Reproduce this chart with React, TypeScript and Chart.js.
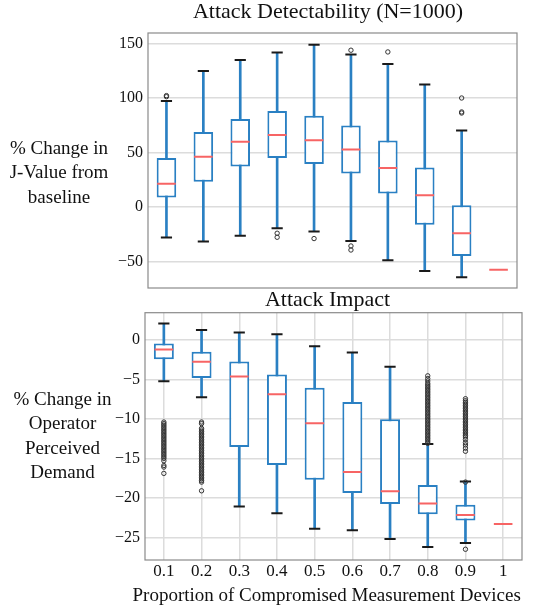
import React, { useEffect, useRef } from 'react';
import { Chart, registerables } from 'chart.js';

Chart.register(...registerables);

const FONT = "'Liberation Serif', 'Times New Roman', serif";
const BLUE = '#2a80c3';
const RED = '#f76464';
const CAP = '#1a1a1a';
const GRID = '#dcdcdc';

const categories = ['0.1', '0.2', '0.3', '0.4', '0.5', '0.6', '0.7', '0.8', '0.9', '1'];

// ---- Attack Detectability (top) ----
const detTitle = 'Attack Detectability (N=1000)';
const detYLabel = ['% Change in', 'J-Value from', 'baseline'];
const detTicks = [-50, 0, 50, 100, 150];
const detLow = [-28.2, -31.9, -26.4, -19.6, -22.7, -31.3, -49.1, -58.9, -64.7, null];
const detQ1 = [8.6, 23.0, 37.1, 44.8, 39.3, 30.7, 12.3, -16.3, -45.1, null];
const detMedian = [21.2, 46.0, 59.8, 66.0, 61.3, 52.8, 35.6, 10.7, -24.2, -57.7];
const detQ3 = [44.8, 68.7, 80.7, 88.0, 83.7, 74.8, 61.0, 36.2, 1.5, null];
const detHigh = [97.2, 124.8, 135.0, 141.7, 149.0, 139.9, 131.3, 112.3, 70.2, null];
const detOutliers = [
  [101.2, 102.2],
  [],
  [],
  [-24.2, -27.9],
  [-29.1],
  [143.9, -35.9, -39.6],
  [142.3],
  [],
  [100.0, 86.2, 87.2],
  [],
];

// ---- Attack Impact (bottom) ----
const impTitle = 'Attack Impact';
const impYLabel = ['% Change in', 'Operator', 'Perceived', 'Demand'];
const impXTitle = 'Proportion of Compromised Measurement Devices';
const impTicks = [-25, -20, -15, -10, -5, 0];
const impLow = [-5.25, -7.27, -21.1, -21.93, -23.9, -24.1, -25.2, -26.2, -25.7, null];
const impQ1 = [-2.44, -4.83, -13.57, -15.84, -17.69, -19.37, -20.76, -22.06, -22.86, null];
const impMedian = [-1.22, -2.77, -4.62, -6.89, -10.55, -16.72, -19.16, -20.71, -22.18, -23.3];
const impQ3 = [-0.46, -1.51, -2.73, -4.37, -6.05, -7.86, -10.04, -18.36, -20.88, null];
const impHigh = [2.06, 1.26, 0.92, 0.71, -0.8, -1.6, -3.4, -13.19, -17.94, null];
const impOutliers = [
  [-10.4, -10.6, -10.8, -11.0, -11.2, -11.4, -11.6, -11.8, -12.0, -12.2, -12.4, -12.6, -12.8, -13.0,
    -13.2, -13.4, -13.6, -13.8, -14.0, -14.2, -14.4, -14.6, -14.8, -15.0, -15.3, -15.9, -16.1, -16.9],
  [-10.4, -10.6, -11.2, -11.4, -11.6, -11.8, -12.0, -12.2, -12.4, -12.6, -12.8, -13.0, -13.2, -13.4,
    -13.6, -13.8, -14.0, -14.2, -14.4, -14.6, -14.8, -15.0, -15.2, -15.4, -15.6, -15.8, -16.0, -16.2,
    -16.4, -16.6, -16.8, -17.0, -17.2, -17.4, -17.6, -17.8, -18.0, -19.1],
  [],
  [],
  [],
  [],
  [],
  [-4.55, -4.9, -5.2, -5.5, -5.7, -5.9, -6.1, -6.3, -6.5, -6.7, -6.9, -7.1, -7.3, -7.5, -7.7, -7.9,
    -8.1, -8.3, -8.5, -8.7, -8.9, -9.1, -9.3, -9.5, -9.7, -9.9, -10.1, -10.3, -10.5, -10.7, -10.9,
    -11.1, -11.3, -11.5, -11.7, -11.9, -12.1, -12.3, -12.5, -12.7, -12.9, -13.1],
  [-7.45, -7.7, -7.9, -8.1, -8.3, -8.5, -8.7, -8.9, -9.1, -9.3, -9.5, -9.7, -9.9, -10.1, -10.3, -10.5,
    -10.7, -10.9, -11.1, -11.3, -11.5, -11.7, -11.9, -12.1, -12.3, -12.6, -13.0, -13.3, -13.7, -14.1,
    -18.0, -26.5],
  [],
];

type Num = number | null;

function buildDatasets(low: Num[], q1: Num[], med: Num[], q3: Num[], high: Num[], outl: number[][]) {
  const whiskers = categories.map((_, i) => (low[i] == null ? null : [low[i], high[i]]));
  const boxes = categories.map((_, i) => (q1[i] == null ? null : [q1[i], q3[i]]));
  const caps: any[] = [];
  categories.forEach((c, i) => {
    if (low[i] != null) caps.push({ x: c, y: low[i] });
    if (high[i] != null) caps.push({ x: c, y: high[i] });
  });
  const medians = categories.map((c, i) => ({ x: c, y: med[i] }));
  const outliers: any[] = [];
  outl.forEach((arr, i) => arr.forEach((v) => outliers.push({ x: categories[i], y: v })));
  return [
    {
      type: 'bar', data: whiskers, backgroundColor: BLUE, borderWidth: 0,
      barThickness: 2, grouped: false, order: 5,
    },
    {
      type: 'bar', data: boxes, backgroundColor: '#ffffff', borderColor: BLUE, borderWidth: 2,
      borderSkipped: false, barPercentage: 0.53, categoryPercentage: 1, grouped: false, order: 4,
    },
    {
      type: 'scatter', data: caps, pointStyle: 'line', pointRadius: 5.6, borderColor: CAP,
      pointBorderColor: CAP, pointBorderWidth: 2, borderWidth: 2, order: 3,
    },
    {
      type: 'scatter', data: medians, pointStyle: 'line', pointRadius: 9.3, borderColor: RED,
      pointBorderColor: RED, pointBorderWidth: 2, borderWidth: 2, order: 2,
    },
    {
      type: 'scatter', data: outliers, pointStyle: 'circle', pointRadius: 2.2, borderColor: '#333',
      pointBorderColor: '#333', pointBackgroundColor: 'rgba(0,0,0,0)', backgroundColor: 'rgba(0,0,0,0)',
      pointBorderWidth: 1, borderWidth: 1, order: 1,
    },
  ];
}

// Draws the plot frame, the horizontal side label, and the titles
const textPlugin = {
  id: 'texts',
  afterDraw(chart: any, _args: any, opts: any) {
    const { ctx, chartArea } = chart;
    ctx.save();
    ctx.strokeStyle = '#8a8a8a';
    ctx.lineWidth = 1.2;
    ctx.strokeRect(chartArea.left, chartArea.top, chartArea.right - chartArea.left, chartArea.bottom - chartArea.top);
    ctx.fillStyle = '#111';
    ctx.textAlign = 'center';
    ctx.textBaseline = 'middle';
    (opts.items || []).forEach((it: any) => {
      ctx.font = `${it.size}px ${FONT}`;
      const lines: string[] = Array.isArray(it.text) ? it.text : [it.text];
      lines.forEach((t, i) => ctx.fillText(t, it.x, it.y + i * (it.dy || 0)));
    });
    ctx.restore();
  },
};

const minus = (v: any) => String(v).replace('-', '\u2212');

function makeConfig(kind: 'top' | 'bottom'): any {
  const top = kind === 'top';
  const datasets = top
    ? buildDatasets(detLow, detQ1, detMedian, detQ3, detHigh, detOutliers)
    : buildDatasets(impLow, impQ1, impMedian, impQ3, impHigh, impOutliers);
  const ticks = top ? detTicks : impTicks;
  const items = top
    ? [
        { text: detTitle, x: 328, y: 12.5, size: 22 },
        { text: detYLabel, x: 59, y: 149, dy: 24.5, size: 19 },
      ]
    : [
        { text: impTitle, x: 327.5, y: 11.5, size: 22 },
        { text: impYLabel, x: 62.5, y: 111, dy: 24.4, size: 19 },
        { text: impXTitle, x: 326.7, y: 307.5, size: 19 },
      ];
  return {
    type: 'bar',
    data: { labels: categories, datasets },
    plugins: [textPlugin],
    options: {
      responsive: false,
      animation: false,
      events: [],
      layout: {
        autoPadding: false,
        padding: top ? { left: 0, right: 39, top: 33, bottom: 1 } : { left: 0, right: 34, top: 23.7, bottom: 25.6 },
      },
      plugins: {
        legend: { display: false },
        tooltip: { enabled: false },
        title: { display: false },
        texts: { items },
      },
      scales: {
        x: top
          ? { type: 'category', display: false, offset: true }
          : {
              type: 'category',
              offset: true,
              grid: { offset: false, color: GRID, lineWidth: 1.5, drawTicks: false },
              border: { display: false },
              ticks: { color: '#111', padding: 1, font: { family: FONT, size: 17 } },
            },
        y: {
          type: 'linear',
          min: top ? -74.5 : -27.86,
          max: top ? 159.7 : 3.44,
          afterBuildTicks: (ax: any) => {
            ax.ticks = ticks.map((value) => ({ value }));
          },
          afterFit: (ax: any) => {
            ax.width = top ? 148 : 145;
            ax.paddingTop = 0;
            ax.paddingBottom = 0;
          },
          grid: { color: GRID, lineWidth: 1.5, drawTicks: false },
          border: { display: false },
          ticks: { color: '#111', padding: 5, font: { family: FONT, size: 16 }, callback: (v: any) => minus(v) },
        },
      },
    },
  };
}

function BoxChart({ kind, height }: { kind: 'top' | 'bottom'; height: number }) {
  const ref = useRef<HTMLCanvasElement | null>(null);
  useEffect(() => {
    if (!ref.current) return;
    const chart = new Chart(ref.current, makeConfig(kind));
    return () => chart.destroy();
  }, [kind]);
  return <canvas ref={ref} width={556} height={height} style={{ display: 'block', width: 556, height }} />;
}

export default function App() {
  return (
    <div style={{ position: 'fixed', left: 0, top: 0, width: 556, height: 608, background: '#fff' }}>
      <div style={{ position: 'absolute', left: 0, top: 0 }}>
        <BoxChart kind="top" height={289} />
      </div>
      <div style={{ position: 'absolute', left: 0, top: 289 }}>
        <BoxChart kind="bottom" height={319} />
      </div>
    </div>
  );
}
